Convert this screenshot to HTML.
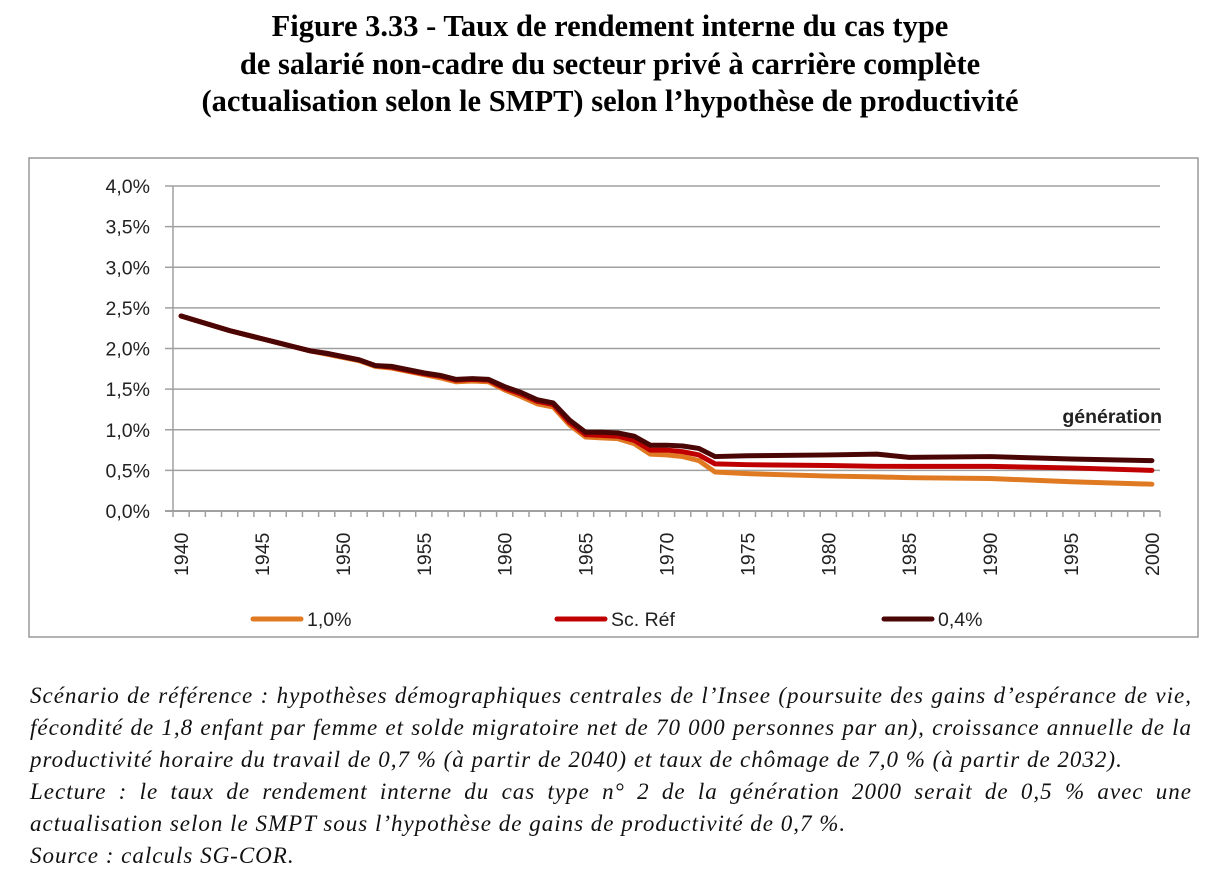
<!DOCTYPE html>
<html><head><meta charset="utf-8">
<style>
body{margin:0;background:#fff;width:1220px;height:888px;overflow:hidden;position:relative;font-family:"Liberation Serif",serif}
.title{position:absolute;left:0;width:1220px;top:8px;text-align:center;font-weight:bold;font-size:30.5px;line-height:37.5px;color:#000}
.cap{position:absolute;left:30px;top:680px;width:1162px;font-style:italic;font-size:23px;letter-spacing:1px;line-height:32px;color:#111;text-align:justify}
.cap div{text-align-last:justify;white-space:nowrap}
.cap div.l{text-align-last:left}
svg{position:absolute;left:0;top:0}
</style></head><body>
<div class="title">Figure 3.33 - Taux de rendement interne du cas type<br>de salarié non-cadre du secteur privé à carrière complète<br>(actualisation selon le SMPT) selon l’hypothèse de productivité</div>
<svg id="chart" width="1220" height="888"></svg>
<div class="cap">
<div>Scénario de référence : hypothèses démographiques centrales de l’Insee (poursuite des gains d’espérance de vie,</div>
<div>fécondité de 1,8 enfant par femme et solde migratoire net de 70 000 personnes par an), croissance annuelle de la</div>
<div class="l">productivité horaire du travail de 0,7 % (à partir de 2040) et taux de chômage de 7,0 % (à partir de 2032).</div>
<div>Lecture : le taux de rendement interne du cas type n° 2 de la génération 2000 serait de 0,5 % avec une</div>
<div class="l">actualisation selon le SMPT sous l’hypothèse de gains de productivité de 0,7 %.</div>
<div class="l">Source : calculs SG-COR.</div>
</div>
<script>
const years=[1940,1941,1942,1943,1944,1945,1946,1947,1948,1949,1950,1951,1952,1953,1954,1955,1956,1957,1958,1959,1960,1961,1962,1963,1964,1965,1966,1967,1968,1969,1970,1971,1972,1973,1975,1980,1983,1985,1990,1995,2000];
const s04=[2.40,2.34,2.28,2.22,2.17,2.12,2.07,2.02,1.97,1.94,1.90,1.86,1.79,1.78,1.74,1.70,1.67,1.62,1.63,1.62,1.53,1.46,1.37,1.33,1.12,0.97,0.97,0.96,0.92,0.81,0.81,0.80,0.77,0.67,0.68,0.69,0.70,0.66,0.67,0.64,0.62];
const sref=[2.40,2.34,2.28,2.22,2.17,2.12,2.07,2.02,1.97,1.94,1.90,1.86,1.79,1.77,1.73,1.69,1.66,1.61,1.62,1.61,1.51,1.44,1.35,1.31,1.09,0.94,0.93,0.92,0.87,0.75,0.75,0.73,0.69,0.58,0.57,0.56,0.55,0.55,0.55,0.53,0.50];
const s10=[2.40,2.34,2.28,2.22,2.17,2.12,2.07,2.02,1.97,1.93,1.89,1.85,1.78,1.76,1.72,1.68,1.64,1.59,1.60,1.59,1.49,1.41,1.32,1.28,1.06,0.91,0.90,0.89,0.83,0.70,0.69,0.67,0.62,0.48,0.46,0.43,0.42,0.41,0.40,0.36,0.33];
const yTicks=[0,0.5,1,1.5,2,2.5,3,3.5,4];
const xLabels=[1940,1945,1950,1955,1960,1965,1970,1975,1980,1985,1990,1995,2000];
const NS="http://www.w3.org/2000/svg",svg=document.getElementById('chart');
const X0=173,X1=1160,Y0=511,Y1=186;
const cw=(X1-X0)/61;
const x=yr=>X0+(yr-1940+0.5)*cw;
const y=v=>Y0-(v/4)*(Y0-Y1);
function mk(t,a,p){const e=document.createElementNS(NS,t);for(const k in a)e.setAttribute(k,a[k]);(p||svg).appendChild(e);return e;}
const frame=mk('rect',{x:29,y:158,width:1169,height:479,fill:'none',stroke:'#999','stroke-width':1.5});


yTicks.forEach(v=>{
 const g=mk('line',{x1:X0-8,x2:X1,y1:y(v),y2:y(v),stroke:'#a0a0a0','stroke-width':v===0?2:1.5});
 
 
 const t=mk('text',{x:150,y:y(v)+7,'text-anchor':'end','font-family':'Liberation Sans, sans-serif','font-size':19.5,fill:'#222'});
 t.textContent=v.toFixed(1).replace('.',',')+'%';
 
 
});
const ya=mk('line',{x1:X0,x2:X0,y1:Y1,y2:Y0,stroke:'#a0a0a0','stroke-width':1.5});


for(let i=0;i<=61;i++){const tk=mk('line',{x1:X0+i*cw,x2:X0+i*cw,y1:Y0,y2:Y0+6,stroke:'#a0a0a0','stroke-width':1.5});
 
 }
xLabels.forEach(yr=>{
 const t=mk('text',{transform:`translate(${x(yr)+7},576) rotate(-90)`,'font-family':'Liberation Sans, sans-serif','font-size':19.5,fill:'#222'});
 t.textContent=yr;
 
 
});
const gt=mk('text',{x:1162,y:423,'text-anchor':'end','font-family':'Liberation Sans, sans-serif','font-size':19.5,'font-weight':'bold',fill:'#222'});
gt.textContent='génération';


const series=[[s10,'#e07a22','line-1-0'],[sref,'#c00000','line-sc-ref'],[s04,'#4a0505','line-0-4']];
series.forEach(([d,c,n])=>{
 const p=mk('polyline',{points:d.map((v,i)=>x(years[i])+','+y(v)).join(' '),fill:'none',stroke:c,'stroke-width':5,'stroke-linejoin':'round','stroke-linecap':'round'});
 
 
});
[[253,'#e07a22','1,0%'],[557,'#c00000','Sc. Réf'],[884,'#4a0505','0,4%']].forEach(([lx,c,l])=>{
 const g=mk('g',{});
 
 
 mk('line',{x1:lx,x2:lx+48,y1:619,y2:619,stroke:c,'stroke-width':5,'stroke-linecap':'round'},g);
 const t=mk('text',{x:lx+54,y:626,'font-family':'Liberation Sans, sans-serif','font-size':19.5,fill:'#222'},g);
 t.textContent=l;
});
</script>
</body></html>
